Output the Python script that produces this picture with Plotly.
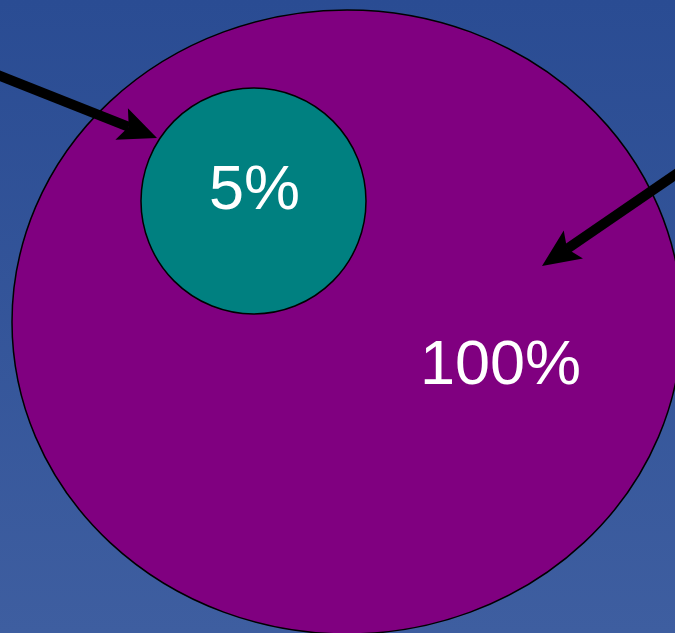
import math
import plotly.graph_objects as go

# Data
labels = ["5%", "100%"]
values = [5, 100]

W, H = 675, 633

fig = go.Figure()

# background gradient
fig.add_trace(go.Scatter(
    x=[0, W, W, 0, 0], y=[0, 0, H, H, 0], mode="lines", line=dict(width=0),
    fill="toself", hoverinfo="skip", showlegend=False,
    fillgradient=dict(type="vertical", colorscale=[[0, "#3e5ea0"], [1, "#2a4c93"]]),
))

shapes = []
# big circle (100%)
shapes.append(dict(type="circle", xref="x", yref="y", x0=12, x1=682, y0=10, y1=634,
                   fillcolor="#800080", line=dict(color="black", width=1.5)))
# small circle (5%)
shapes.append(dict(type="circle", xref="x", yref="y", x0=141, x1=366, y0=88, y1=314,
                   fillcolor="#008080", line=dict(color="black", width=1.5)))


def arrow(tail, tip, hl=38, hw=17, sw=10):
    dx, dy = tail[0] - tip[0], tail[1] - tip[1]
    L = math.hypot(dx, dy)
    ux, uy = dx / L, dy / L
    bx, by = tip[0] + ux * hl * 0.8, tip[1] + uy * hl * 0.8
    cx, cy = tip[0] + ux * hl, tip[1] + uy * hl
    px, py = -uy, ux
    out = [dict(type="line", xref="x", yref="y", x0=tail[0] + ux * 10, y0=tail[1] + uy * 10,
                x1=bx, y1=by, line=dict(color="black", width=sw))]
    path = (f"M {tip[0]},{tip[1]} L {cx + px * hw},{cy + py * hw} "
            f"L {bx},{by} L {cx - px * hw},{cy - py * hw} Z")
    out.append(dict(type="path", xref="x", yref="y", path=path,
                    fillcolor="black", line=dict(color="black", width=0)))
    return out

shapes += arrow((-10, 72), (157, 138))
shapes += arrow((685, 168), (542, 266))

fig.update_layout(shapes=shapes)

label_pos = [(254, 187), (500, 362)]
for lab, (x, y) in zip(labels, label_pos):
    fig.add_annotation(x=x, y=y, xref="x", yref="y", text=lab, showarrow=False,
                       font=dict(family="Liberation Sans, Arial", size=63, color="white"),
                       xanchor="center", yanchor="middle")

fig.update_xaxes(range=[0, W], visible=False, fixedrange=True)
fig.update_yaxes(range=[H, 0], visible=False, fixedrange=True)
fig.update_layout(width=W, height=H, margin=dict(l=0, r=0, t=0, b=0),
                  paper_bgcolor="#2e5096", plot_bgcolor="#2e5096", showlegend=False)

fig.write_html("out.html", config={"displayModeBar": False})
